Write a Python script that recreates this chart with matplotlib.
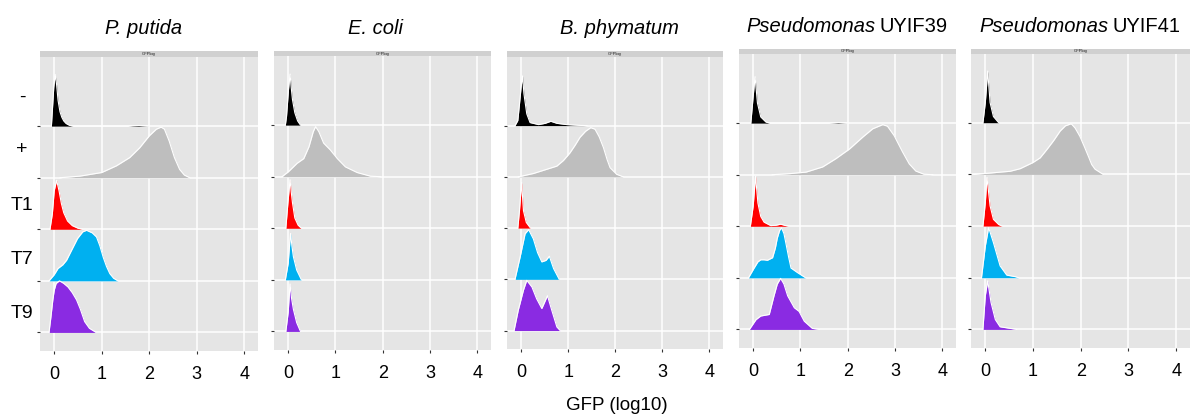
import matplotlib
matplotlib.use("Agg")
import matplotlib.pyplot as plt

plt.rcParams['font.family'] = ['Liberation Sans', 'DejaVu Sans']

# ---------------- data ----------------
categories = ["-", "+", "T1", "T7", "T9"]
x_ticks = [0, 1, 2, 3, 4]
x_label = "GFP (log10)"
strip_label = "GFPlog"

species_titles = [
    [("P. putida", "italic")],
    [("E. coli", "italic")],
    [("B. phymatum", "italic")],
    [("Pseudomonas", "italic"), ("UYIF39", "normal")],
    [("Pseudomonas", "italic"), ("UYIF41", "normal")],
]

# density ridges: (x values in log10 GFP, relative height)
putida_neg = ([-0.06, -0.04, -0.01, 0.02, 0.05, 0.08, 0.12, 0.16, 0.2, 0.25, 0.32, 0.4, 1.55, 1.65, 1.78, 1.9, 2.0],
              [0, 0.3, 0.75, 1.0, 0.8, 0.5, 0.28, 0.17, 0.1, 0.05, 0.015, 0, 0, 0.008, 0.012, 0.006, 0])
putida_pos = ([0.12, 0.54, 1.0, 1.31, 1.59, 1.8, 2.0, 2.15, 2.25, 2.32, 2.42, 2.53, 2.64, 2.74, 2.85],
              [0, 0.03, 0.10, 0.23, 0.39, 0.58, 0.81, 0.94, 0.98, 0.94, 0.71, 0.39, 0.16, 0.05, 0])
putida_t1 = ([-0.09, -0.04, 0.0, 0.05, 0.10, 0.15, 0.20, 0.28, 0.38, 0.5, 0.6],
             [0, 0.3, 0.75, 0.95, 0.75, 0.5, 0.32, 0.16, 0.07, 0.02, 0])
putida_t7 = ([-0.11, 0.0, 0.08, 0.18, 0.26, 0.38, 0.49, 0.6, 0.68, 0.8, 0.89, 0.96, 1.03, 1.1, 1.17, 1.25, 1.34],
             [0, 0.12, 0.24, 0.31, 0.40, 0.62, 0.82, 0.95, 0.98, 0.93, 0.85, 0.68, 0.46, 0.28, 0.14, 0.05, 0])
putida_t9 = ([-0.11, -0.07, -0.03, 0.0, 0.04, 0.11, 0.2, 0.29, 0.38, 0.47, 0.55, 0.64, 0.74, 0.88],
             [0, 0.3, 0.63, 0.82, 0.95, 1.0, 0.95, 0.88, 0.77, 0.63, 0.45, 0.21, 0.08, 0])

ecoli_neg = ([-0.06, -0.035, 0.007, 0.04, 0.065, 0.09, 0.14, 0.2, 0.26],
             [0, 0.17, 0.69, 0.99, 0.72, 0.5, 0.24, 0.08, 0])
ecoli_pos = ([-0.13, 0.01, 0.19, 0.33, 0.44, 0.53, 0.58, 0.65, 0.75, 0.89, 1.04, 1.21, 1.46, 1.74, 1.95],
             [0, 0.1, 0.26, 0.35, 0.58, 0.87, 0.97, 0.87, 0.65, 0.52, 0.35, 0.19, 0.08, 0.01, 0])
ecoli_t1 = ([-0.05, -0.005, 0.04, 0.065, 0.09, 0.14, 0.21, 0.28],
            [0, 0.5, 0.94, 0.7, 0.5, 0.2, 0.06, 0])
ecoli_t7 = ([-0.06, 0.0, 0.05, 0.08, 0.11, 0.18, 0.28],
            [0, 0.32, 0.9, 0.65, 0.45, 0.19, 0])
ecoli_t9 = ([-0.05, 0.0, 0.04, 0.07, 0.11, 0.18, 0.26],
            [0, 0.37, 0.92, 0.65, 0.43, 0.17, 0])

phym_neg = ([-0.13, -0.07, -0.035, 0.0, 0.03, 0.06, 0.12, 0.19, 0.37, 0.51, 0.63, 0.76, 0.97, 1.25, 1.4],
            [0, 0.1, 0.42, 0.75, 0.97, 0.62, 0.23, 0.06, 0.02, 0.045, 0.085, 0.045, 0.02, 0.005, 0])
phym_pos = ([-0.06, 0.26, 0.76, 0.9, 1.04, 1.15, 1.25, 1.37, 1.48, 1.57, 1.66, 1.75, 1.83, 1.89, 2.03, 2.17],
            [0, 0.065, 0.21, 0.32, 0.47, 0.62, 0.77, 0.89, 0.96, 0.93, 0.78, 0.57, 0.33, 0.18, 0.05, 0])
phym_t1 = ([-0.07, -0.035, 0.01, 0.05, 0.11, 0.2],
           [0, 0.34, 0.89, 0.34, 0.11, 0])
phym_t7 = ([-0.13, -0.02, 0.085, 0.16, 0.26, 0.35, 0.44, 0.53, 0.6, 0.69, 0.81],
           [0, 0.44, 0.89, 0.97, 0.79, 0.52, 0.34, 0.37, 0.45, 0.21, 0])
phym_t9 = ([-0.15, -0.06, 0.05, 0.12, 0.23, 0.33, 0.44, 0.56, 0.65, 0.76, 0.83],
           [0, 0.40, 0.79, 0.98, 0.85, 0.62, 0.43, 0.68, 0.40, 0.07, 0])

uy39_neg = ([-0.05, 0.0, 0.04, 0.09, 0.16, 0.27, 0.35, 1.6, 1.8, 2.0],
            [0, 0.52, 0.9, 0.39, 0.12, 0.02, 0, 0, 0.01, 0])
uy39_pos = ([0.4, 0.77, 1.12, 1.47, 1.75, 2.04, 2.32, 2.53, 2.74, 2.84, 2.98, 3.16, 3.3, 3.44, 3.61, 3.8],
            [0, 0.02, 0.05, 0.15, 0.31, 0.5, 0.73, 0.89, 0.97, 0.94, 0.76, 0.44, 0.21, 0.07, 0.01, 0])
uy39_t1 = ([-0.06, 0.0, 0.05, 0.1, 0.16, 0.23, 0.37, 0.48, 0.58, 0.68, 0.76],
           [0, 0.39, 0.97, 0.45, 0.19, 0.08, 0.013, 0.02, 0.04, 0.015, 0])
uy39_t7 = ([-0.1, 0.02, 0.1, 0.16, 0.23, 0.3, 0.41, 0.47, 0.51, 0.56, 0.6, 0.65, 0.69, 0.75, 0.8, 0.94, 1.11],
           [0, 0.19, 0.31, 0.35, 0.35, 0.34, 0.39, 0.58, 0.77, 0.92, 0.97, 0.86, 0.68, 0.4, 0.19, 0.1, 0])
uy39_t9 = ([-0.08, 0.06, 0.16, 0.34, 0.44, 0.51, 0.58, 0.65, 0.73, 0.87, 0.97, 1.08, 1.25, 1.4],
           [0, 0.19, 0.26, 0.29, 0.65, 0.88, 0.99, 0.88, 0.65, 0.42, 0.35, 0.16, 0.02, 0])

uy41_neg = ([-0.05, 0.0, 0.05, 0.1, 0.17, 0.28],
            [0, 0.39, 1.0, 0.39, 0.12, 0])
uy41_pos = ([-0.24, 0.52, 0.73, 1.0, 1.15, 1.29, 1.43, 1.57, 1.68, 1.8, 1.88, 1.98, 2.07, 2.16, 2.23, 2.3, 2.47],
            [0, 0.06, 0.11, 0.23, 0.32, 0.48, 0.65, 0.84, 0.94, 0.98, 0.90, 0.74, 0.55, 0.35, 0.19, 0.1, 0])
uy41_t1 = ([-0.05, 0.0, 0.035, 0.1, 0.17, 0.28, 0.35],
           [0, 0.45, 0.94, 0.39, 0.13, 0.03, 0])
uy41_t7 = ([-0.08, 0.0, 0.07, 0.17, 0.31, 0.45, 0.63, 0.7],
           [0, 0.61, 0.97, 0.68, 0.23, 0.05, 0.02, 0])
uy41_t9 = ([-0.05, 0.0, 0.05, 0.12, 0.21, 0.31, 0.66],
           [0, 0.65, 0.94, 0.52, 0.19, 0.05, 0])

panels_data = [
    [putida_neg, putida_pos, putida_t1, putida_t7, putida_t9],
    [ecoli_neg, ecoli_pos, ecoli_t1, ecoli_t7, ecoli_t9],
    [phym_neg, phym_pos, phym_t1, phym_t7, phym_t9],
    [uy39_neg, uy39_pos, uy39_t1, uy39_t7, uy39_t9],
    [uy41_neg, uy41_pos, uy41_t1, uy41_t7, uy41_t9],
]

# ---------------- style / layout ----------------
fill_colors = ["#000000", "#BEBEBE", "#FF0000", "#00B0F0", "#8A2BE2"]
W, H = 1190, 416
# panel pixel boxes: left, top, right, bottom, strip_top
panel_px = [
    (40, 57, 258, 351, 51),
    (274, 56, 491, 350, 51),
    (507, 57, 723, 349, 51),
    (739, 54, 956, 348, 48.5),
    (971, 53.5, 1190, 348, 48.5),
]
title_px = [(143.5, 34), (375, 34), (619, 34), (847, 32), (1080, 32)]
label_y_px = [97, 149, 205, 260, 314]

fig = plt.figure(figsize=(W / 100, H / 100), dpi=100)

n = len(categories)
for p, (l, t, r, b, st) in enumerate(panel_px):
    ax = fig.add_axes([l / W, 1 - b / H, (r - l) / W, (b - t) / H])
    ax.set_facecolor("#E5E5E5")
    for s in ax.spines.values():
        s.set_visible(False)
    ax.set_xlim(-0.3, 4.29)
    ax.set_ylim(0.64, 6.34)
    ax.set_xticks(x_ticks)
    ax.set_xticklabels([str(v) for v in x_ticks])
    ax.set_yticks([n - i for i in range(n)])
    ax.set_yticklabels([""] * n)
    ax.grid(True, color="white", linewidth=1.1, zorder=0)
    ax.set_axisbelow(True)
    ax.tick_params(axis="both", length=2.2, width=0.8, color="#333333",
                   labelsize=13, labelcolor="black")
    ax.tick_params(axis="x", pad=8.5)
    for i, (xs, hs) in enumerate(panels_data[p]):
        base = n - i
        tops = [base + h for h in hs]
        ax.fill_between(xs, base, tops, color=fill_colors[i], linewidth=0, zorder=2 + i)
        ax.plot(xs, tops, color="white", linewidth=0.8, zorder=2 + i,
                solid_joinstyle="round")

    # strip
    sax = fig.add_axes([l / W, 1 - t / H, (r - l) / W, (t - st) / H])
    sax.set_facecolor("#D0D0D0")
    sax.set_xticks([])
    sax.set_yticks([])
    for s in sax.spines.values():
        s.set_visible(False)
    sax.text(0.5, 0.5, strip_label, ha="center", va="center", fontsize=3,
             color="#1A1A1A", transform=sax.transAxes)

# row labels
for lab, yp in zip(categories, label_y_px):
    fig.text(22 / W, 1 - yp / H, lab, ha="center", va="center", fontsize=14)

# titles with mixed italics
fig.canvas.draw()
renderer = fig.canvas.get_renderer()
for parts, (cx, yb) in zip(species_titles, title_px):
    texts = []
    for s, style in parts:
        texts.append(fig.text(0, 1 - yb / H, s, style=style, fontsize=14.5,
                              ha="left", va="baseline"))
    widths = [tx.get_window_extent(renderer).width for tx in texts]
    gap = 4.5
    total = sum(widths) + gap * (len(texts) - 1)
    x = cx - total / 2
    for tx, w in zip(texts, widths):
        tx.set_x(x / W)
        x += w + gap

fig.text(617 / W, 1 - 406 / H, x_label, ha="center", va="center", fontsize=13.5)

fig.savefig("out.png", dpi=100)
